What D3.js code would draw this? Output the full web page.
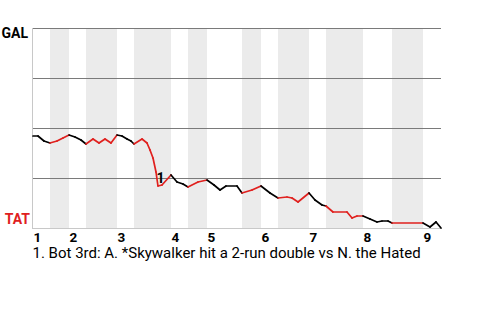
<!DOCTYPE html>
<html><head><meta charset="utf-8">
<script src="https://cdn.jsdelivr.net/npm/d3@7"></script>
<style>
html,body{margin:0;padding:0;background:#fff;}
svg{display:block;font-family:Roboto,"Noto Sans",sans-serif;}
</style></head>
<body>
<svg id="chart" width="480" height="320"></svg>
<script>
// Team labels
const awayTeam = "GAL";
const homeTeam = "TAT";
// Inning labels
const innings = ["1","2","3","4","5","6","7","8","9"];
// Half-inning boundaries (game progress, in plays)
const halfBounds = [0, 2.83, 6, 8.83, 14, 16.83, 23, 25.83, 29, 34.83, 38, 40.83, 46, 48.83, 55, 59.83, 65, 68];
// Win probability for GAL (%) over game progress
const progress = [0, 0.83, 1.83, 2.83, 4, 5, 6, 7, 8, 8.83, 10, 11, 12, 13, 14, 14.83, 15.67, 16.33, 16.83,
  18.17, 19, 19.5, 20, 20.5, 20.83, 21.5, 23, 24, 25, 25.83, 27.5, 29, 30.17, 31.17, 32.17, 34, 34.83, 36.5, 38,
  39.5, 40.83, 42.33, 43.17, 44.17, 46, 47, 48.17, 48.83, 50, 52.33, 53.17, 54, 55, 56.17, 57.33, 58.17, 59.17,
  59.83, 65, 66.17, 67.17, 68];
const galWinProb = [46, 46, 43.5, 42.5, 43.5, 45, 46.5, 45.5, 44, 42, 44.5, 42.5, 44.5, 42.5, 46.5, 46, 44.5, 43.5, 42,
  44.5, 42.5, 39, 35, 28, 21, 21.5, 26.5, 23, 22, 20.5, 23, 24, 21.5, 19, 21, 21, 17.5, 19, 21,
  17.5, 15, 15.5, 15, 13, 17.5, 14, 11.5, 11, 8, 8, 5, 6, 6, 4.5, 3, 3.5, 3.5,
  2.5, 2.5, 0.5, 3, 0];
// Annotations
const noteIds = ["1"];
const noteProgress = [21.25];
const noteProb = [22.5];
const noteTexts = ["1. Bot 3rd: A. *Skywalker hit a 2-run double vs N. the Hated"];

const svg = d3.select("#chart");
const mLeft = 32.5, mRight = 441, mTop = 28, mBottom = 228;
const x = d3.scaleLinear().domain([0, 68]).range([mLeft + 0.5, mRight]);
const y = d3.scaleLinear().domain([0, 100]).range([mBottom, mTop]);

// shaded bottom halves
const halves = [];
for (let i = 0; i < halfBounds.length - 1; i++) halves.push({i, a: halfBounds[i], b: halfBounds[i+1], bottom: i % 2 === 1});
svg.append("g").selectAll("rect").data(halves.filter(d => d.bottom)).join("rect")
  .attr("x", d => x(d.a)).attr("width", d => x(d.b) - x(d.a))
  .attr("y", mTop).attr("height", mBottom - mTop).attr("fill", "#ebebeb");

// grid lines
svg.append("g").selectAll("line").data([100, 75, 50, 25]).join("line")
  .attr("x1", mLeft).attr("x2", mRight).attr("y1", d => Math.round(y(d)) + 0.5).attr("y2", d => Math.round(y(d)) + 0.5)
  .attr("stroke", "#7a7a7a").attr("stroke-width", 1);
// axes lines
svg.append("line").attr("x1", mLeft).attr("x2", mLeft).attr("y1", mTop).attr("y2", mBottom + 1)
  .attr("stroke", "#c8c8c8");
svg.append("line").attr("x1", mLeft).attr("x2", mRight).attr("y1", mBottom + 0.5).attr("y2", mBottom + 0.5)
  .attr("stroke", "#c8c8c8");

// line segments coloured by half inning
const pts = progress.map((p, i) => ({p, v: galWinProb[i]}));
const segs = [];
for (let i = 0; i < pts.length - 1; i++) {
  const mid = (pts[i].p + pts[i+1].p) / 2;
  const h = halves.find(d => mid >= d.a && mid <= d.b);
  segs.push({a: pts[i], b: pts[i+1], bottom: h ? h.bottom : false});
}
svg.append("g").selectAll("line").data(segs).join("line")
  .attr("x1", d => x(d.a.p)).attr("y1", d => y(d.a.v))
  .attr("x2", d => x(d.b.p)).attr("y2", d => y(d.b.v))
  .attr("stroke", d => d.bottom ? "#e0201e" : "#000")
  .attr("stroke-width", 1.7).attr("stroke-linecap", "round");

// team labels
svg.append("text").attr("x", 28).attr("y", y(100) + 10).attr("text-anchor", "end")
  .attr("font-size", 14).attr("font-weight", "bold").attr("fill", "#000").text(awayTeam);
svg.append("text").attr("x", 30).attr("y", y(0) - 4).attr("text-anchor", "end")
  .attr("font-size", 14).attr("font-weight", "bold").attr("fill", "#e0201e").text(homeTeam);

// inning labels
svg.append("g").selectAll("text").data(innings).join("text")
  .attr("x", (d, i) => x(halfBounds[2*i]) + 0.5).attr("y", mBottom + 14)
  .attr("font-size", 13.5).attr("font-weight", "bold").attr("fill", "#000").text(d => d);

// annotation marker
svg.append("g").selectAll("text").data(noteIds).join("text")
  .attr("x", (d, i) => x(noteProgress[i])).attr("y", (d, i) => y(noteProb[i]))
  .attr("text-anchor", "middle").attr("font-size", 14).attr("font-weight", "bold").text(d => d);

// annotation text
svg.append("g").selectAll("text").data(noteTexts).join("text")
  .attr("x", mLeft).attr("y", (d, i) => mBottom + 30 + i * 16)
  .attr("font-size", 15).attr("fill", "#000").text(d => d);
</script>
</body></html>
